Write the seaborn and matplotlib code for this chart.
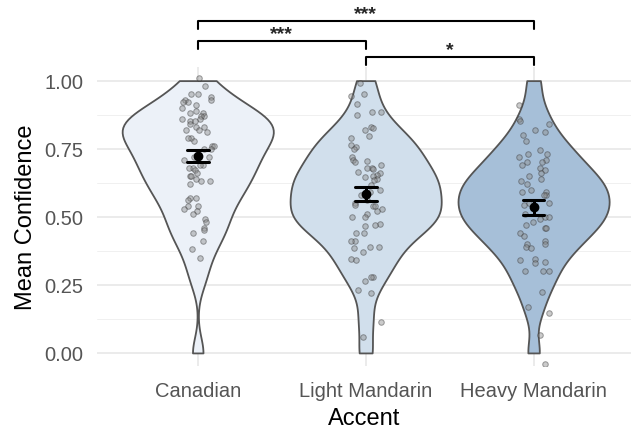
import matplotlib
matplotlib.use("Agg")
import matplotlib.pyplot as plt
from matplotlib.ticker import FixedLocator
import seaborn as sns
import numpy as np
import pandas as pd

# Groups and fill colours
accents = ["Canadian", "Light Mandarin", "Heavy Mandarin"]
fills = ["#eaf1fa", "#cddff0", "#9ebfe0"]

# Participant mean confidence
canadian = [1.01, 0.98, 0.95, 0.95, 0.94, 0.93, 0.93, 0.92, 0.92, 0.91, 0.90, 0.89,
            0.88, 0.88, 0.87, 0.87, 0.86, 0.86, 0.85, 0.85, 0.84, 0.83, 0.83, 0.82,
            0.82, 0.81, 0.79, 0.79, 0.78, 0.76, 0.76, 0.75, 0.75, 0.72, 0.72, 0.71,
            0.69, 0.69, 0.68, 0.68, 0.67, 0.66, 0.65, 0.65, 0.64, 0.63, 0.63, 0.62,
            0.57, 0.57, 0.56, 0.54, 0.54, 0.53, 0.52, 0.51, 0.49, 0.48, 0.46, 0.45,
            0.44, 0.41, 0.38, 0.35]
light = [0.99, 0.95, 0.945, 0.915, 0.885, 0.875, 0.885, 0.83, 0.825, 0.82, 0.795, 0.79,
         0.765, 0.755, 0.75, 0.72, 0.71, 0.705, 0.70, 0.69, 0.68, 0.68, 0.675, 0.665,
         0.66, 0.655, 0.65, 0.645, 0.64, 0.635, 0.615, 0.60, 0.59, 0.58, 0.56, 0.55,
         0.545, 0.54, 0.54, 0.53, 0.52, 0.51, 0.50, 0.50, 0.475, 0.47, 0.465, 0.44,
         0.44, 0.41, 0.41, 0.39, 0.39, 0.385, 0.37, 0.345, 0.34, 0.28, 0.28, 0.265,
         0.23, 0.22, 0.115, 0.06]
heavy = [0.91, 0.86, 0.85, 0.84, 0.82, 0.81, 0.80, 0.78, 0.745, 0.73, 0.73, 0.72,
         0.71, 0.70, 0.70, 0.69, 0.68, 0.67, 0.66, 0.65, 0.64, 0.63, 0.62, 0.60,
         0.59, 0.59, 0.58, 0.58, 0.55, 0.55, 0.545, 0.51, 0.50, 0.50, 0.49, 0.48,
         0.47, 0.46, 0.46, 0.44, 0.43, 0.41, 0.40, 0.40, 0.39, 0.385, 0.345, 0.34,
         0.335, 0.33, 0.30, 0.30, 0.30, 0.225, 0.17, 0.145, 0.065, -0.04]

# Trial-level responses behind the violins
canadian_trials = [0.00, 0.27, 0.34, 0.39, 0.42, 0.45, 0.47, 0.49, 0.52, 0.54, 0.56,
                   0.58, 0.59, 0.61, 0.62, 0.64, 0.65, 0.66, 0.68, 0.69, 0.70, 0.71,
                   0.72, 0.74, 0.75, 0.76, 0.77, 0.78, 0.79, 0.80, 0.81, 0.82, 0.83,
                   0.83, 0.84, 0.85, 0.86, 0.87, 0.88, 0.89, 0.90, 0.92, 0.94, 0.97,
                   1.00]
light_trials = [0.00, 0.12, 0.23, 0.28, 0.31, 0.34, 0.36, 0.39, 0.41, 0.43, 0.44, 0.46,
                0.47, 0.48, 0.49, 0.50, 0.51, 0.52, 0.53, 0.54, 0.55, 0.56, 0.58, 0.59,
                0.60, 0.61, 0.62, 0.63, 0.64, 0.65, 0.66, 0.68, 0.69, 0.70, 0.72, 0.73,
                0.75, 0.76, 0.78, 0.79, 0.81, 0.84, 0.87, 0.93, 1.00]
heavy_trials = [0.00, 0.15, 0.22, 0.26, 0.29, 0.32, 0.35, 0.37, 0.39, 0.40, 0.42, 0.43,
                0.45, 0.46, 0.47, 0.48, 0.49, 0.50, 0.51, 0.52, 0.53, 0.54, 0.55, 0.56,
                0.57, 0.58, 0.59, 0.60, 0.61, 0.62, 0.63, 0.64, 0.65, 0.66, 0.68, 0.69,
                0.71, 0.72, 0.74, 0.76, 0.78, 0.81, 0.85, 0.90, 1.00]

# significance comparisons (group index pairs) and labels
comparisons = [(0, 2), (0, 1), (1, 2)]
sig_labels = ["***", "***", "*"]

groups = [canadian, light, heavy]
trials = [canadian_trials, light_trials, heavy_trials]
pts = pd.DataFrame({
    "Accent": np.repeat(accents, [len(g) for g in groups]),
    "conf": np.concatenate(groups),
})
vio = pd.DataFrame({
    "Accent": np.repeat(accents, [len(t) for t in trials]),
    "conf": np.concatenate(trials),
})

sns.set_theme(style="whitegrid")
plt.rcParams["font.family"] = ["Liberation Sans", "DejaVu Sans"]

fig = plt.figure(figsize=(6.31, 4.31), dpi=100)
ax = fig.add_axes([0.1537, 0.1485, 0.846, 0.6937])

sns.violinplot(data=vio, x="Accent", y="conf", hue="Accent", order=accents,
               hue_order=accents, palette=fills, cut=0, inner=None,
               density_norm="area", width=0.9, bw_adjust=0.6, linewidth=1.3,
               linecolor="#555555", legend=False, ax=ax)

np.random.seed(3)
sns.stripplot(data=pts, x="Accent", y="conf", order=accents, jitter=0.1,
              size=4, color="#8c8c8c", alpha=0.45, edgecolor="#333333",
              linewidth=0.7, ax=ax, zorder=3)

sns.pointplot(data=pts, x="Accent", y="conf", order=accents, errorbar="se",
              capsize=0.13, color="black", markers="o", linestyle="none",
              markersize=5, err_kws={"linewidth": 2.2}, ax=ax, zorder=5)

ax.set_xlim(-0.6, 2.579)
ax.set_ylim(-0.048, 1.05)
ax.set_yticks([0, 0.25, 0.5, 0.75, 1.0])
ax.set_yticklabels(["0.00", "0.25", "0.50", "0.75", "1.00"])
ax.yaxis.set_minor_locator(FixedLocator([0.125, 0.375, 0.625, 0.875]))
ax.grid(which="major", color="#e6e6e6", linewidth=1.1)
ax.grid(which="minor", axis="y", color="#f0f0f0", linewidth=0.7)
ax.set_axisbelow(True)
for s in ax.spines.values():
    s.set_visible(False)
ax.tick_params(axis="both", which="both", length=0, labelsize=14.5,
               labelcolor="#555555")
ax.tick_params(axis="y", pad=10)
ax.tick_params(axis="x", pad=11)

ax.set_xlabel("Accent", fontsize=17, color="black", labelpad=5)
ax.set_ylabel("Mean Confidence", fontsize=17, color="black", labelpad=5)

# significance brackets above the panel
bracket_tops = [1.22, 1.145, 1.088]
for (i, j), lab, top in zip(comparisons, sig_labels, bracket_tops):
    ax.plot([i, i, j, j], [top - 0.03, top, top, top - 0.03], color="black",
            linewidth=1.5, clip_on=False)
    ax.text((i + j) / 2, top + 0.026, lab, ha="center", va="center",
            fontsize=14, fontweight="bold", clip_on=False)

fig.savefig("out.png", dpi=100)
